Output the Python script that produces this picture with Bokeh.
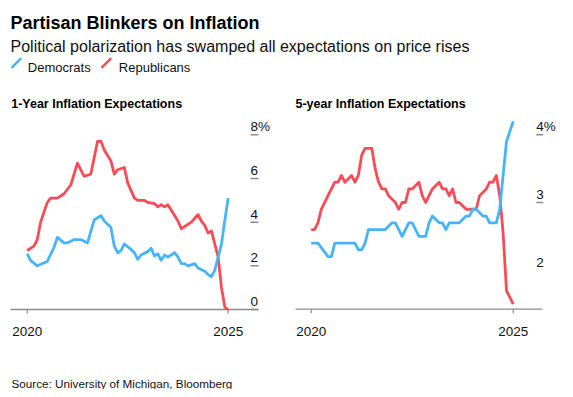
from bokeh.plotting import figure
from bokeh.models import Range1d
from bokeh.embed import file_html
from bokeh.resources import INLINE
from bokeh.core.properties import value

# ---------------- data ----------------
TITLE = "Partisan Blinkers on Inflation"
SUBTITLE = "Political polarization has swamped all expectations on price rises"
SOURCE = "Source: University of Michigan, Bloomberg"
SERIES = ["Democrats", "Republicans"]

# 1-year expectations (months since Jan 2020, %)
y1_rep_m = [0, 2, 3, 4, 6, 7, 9, 11, 13, 15, 17, 19, 21, 22, 23, 25, 26, 27, 29, 30, 32, 33, 35, 36,
            38, 39, 40, 41, 42, 44, 45, 46, 47, 49, 51, 52, 53, 54, 55, 57, 58, 59, 60]
y1_rep_v = [2.7, 2.9, 3.2, 4.0, 4.9, 5.1, 5.1, 5.3, 5.7, 6.7, 6.1, 6.2, 7.7, 7.7, 7.3, 6.8, 6.2, 6.4, 6.5, 5.8, 5.1, 5.0, 5.0, 4.9,
            4.85, 4.7, 4.8, 4.7, 4.8, 4.3, 4.05, 3.7, 3.8, 4.0, 4.35, 4.05, 3.85, 3.5, 3.6, 2.4, 1.0, 0.1, 0.0]
y1_dem_m = [0, 1, 3, 6, 8, 9, 11, 12, 14, 16, 18, 20, 22, 23, 25, 26, 27, 28, 29, 31, 32, 33, 34, 36, 37,
            38, 39, 40, 41, 42, 44, 45, 46, 47, 48, 50, 51, 53, 54, 55, 56, 58, 59, 60]
y1_dem_v = [2.55, 2.25, 2.0, 2.2, 2.85, 3.3, 3.05, 3.05, 3.2, 3.2, 3.05, 4.1, 4.3, 4.05, 3.75, 2.9, 2.6, 2.7, 3.0, 2.75, 2.6, 2.3, 2.5, 2.65, 2.8,
            2.45, 2.55, 2.25, 2.5, 2.4, 2.6, 2.4, 2.1, 2.1, 2.0, 2.1, 1.9, 1.75, 1.6, 1.5, 1.8, 3.0, 4.1, 5.1]

# 5-year expectations
y5_rep_m = [0, 1, 2, 3, 5, 6, 7, 8, 9, 10, 12, 13, 14, 15, 16, 18, 19, 20, 21, 22, 23, 25, 26, 27, 28, 29, 30,
            32, 33, 34, 35, 36, 38, 39, 40, 41, 42, 43, 44, 46, 47, 49, 50, 52, 53, 54, 55, 56, 57, 58, 60]
y5_rep_v = [2.6, 2.6, 2.7, 2.9, 3.1, 3.2, 3.3, 3.3, 3.4, 3.3, 3.4, 3.3, 3.4, 3.7, 3.8, 3.8, 3.5, 3.3, 3.2, 3.2, 3.1, 3.0, 2.9, 3.0, 3.0, 3.2, 3.2,
            3.3, 3.1, 3.0, 3.1, 3.2, 3.3, 3.2, 3.2, 3.1, 3.2, 3.0, 3.0, 2.9, 2.9, 2.9, 3.1, 3.2, 3.3, 3.3, 3.4, 3.1, 2.55, 1.7, 1.5]
y5_dem_m = [0, 2, 5, 6, 7, 13, 14, 15, 16, 17, 22, 24, 25, 27, 29, 30, 32, 34, 35, 36, 38, 39, 40, 41, 44,
            46, 47, 48, 49, 51, 52, 53, 55, 56, 57, 58, 60]
y5_dem_v = [2.4, 2.4, 2.2, 2.2, 2.4, 2.4, 2.3, 2.3, 2.4, 2.6, 2.6, 2.7, 2.7, 2.5, 2.7, 2.7, 2.5, 2.5, 2.7, 2.8, 2.7, 2.7, 2.6, 2.7, 2.7,
            2.8, 2.8, 2.9, 2.9, 2.8, 2.8, 2.7, 2.7, 2.9, 3.4, 3.9, 4.2]

X_TICKS = [2020, 2025]
X_LABELS = ["2020", "2025"]
P1_TITLE = "1-Year Inflation Expectations"
P1_LABEL_VALUES = [0, 2, 4, 6, 8]
P1_LABELS = ["0", "2", "4", "6", "8%"]
P1_TICKS = [0, 2, 4, 6, 8]
P2_TITLE = "5-year Inflation Expectations"
P2_LABEL_VALUES = [2, 3, 4]
P2_LABELS = ["2", "3", "4%"]
P2_TICKS = [3, 4]

# ---------------- style / layout (canvas pixels) ----------------
FONT = "Liberation Sans"
BLUE = "#46b4fb"
RED = "#fb4b57"
GREY = "#8c8c8c"
TXT = "#111111"

W, H = 565, 389


def years(months):
    return [2020 + m / 12 for m in months]


class Panel:
    """maps canvas pixels <-> panel data for one small-multiple"""
    def __init__(self, name, x2020, ppy, yref_px, yref_val, ppu, frame_l, frame_r, base_px):
        self.name = name
        self.x2020, self.ppy = x2020, ppy
        self.yref_px, self.yref_val, self.ppu = yref_px, yref_val, ppu
        self.frame_l, self.frame_r, self.base_px = frame_l, frame_r, base_px

    def dx(self, px):  # canvas x -> year
        return 2020 + (px - self.x2020) / self.ppy

    def dy(self, py):  # canvas y -> value
        return self.yref_val + (self.yref_px - py) / self.ppu

    def xrange(self):
        return Range1d(self.dx(0), self.dx(W))

    def yrange(self):
        return Range1d(self.dy(H), self.dy(0))


P1 = Panel("p1", 26.7, 40.2, 309.0, 0.0, 21.84, 10, 258, 309.0)
P2 = Panel("p2", 310.7, 40.4, 202.0, 3.0, 67.7, 295, 542, 308.7)

p = figure(width=W, height=H, output_backend="svg", toolbar_location=None,
           x_range=Range1d(0, W), y_range=Range1d(H, 0),
           x_axis_location=None, y_axis_location=None,
           min_border=0, outline_line_color=None)
p.grid.visible = False
p.extra_x_ranges = {"p1x": P1.xrange(), "p2x": P2.xrange()}
p.extra_y_ranges = {"p1y": P1.yrange(), "p2y": P2.yrange()}

# header
p.text(x=[10], y=[22.7], text=[TITLE], text_font=value(FONT), text_font_style="bold",
       text_font_size="18px", text_color="#000000", text_baseline="alphabetic")
p.text(x=[10], y=[45.7], text=[SUBTITLE], text_font=value(FONT),
       text_font_size="16px", text_color=TXT, text_baseline="alphabetic")
p.segment(x0=[11.7, 101.7], y0=[66.7, 66.7], x1=[20, 110], y1=[58.3, 58.3],
          line_color=[BLUE, RED], line_width=2.5, line_cap="round")
p.text(x=[27.3, 118.3], y=[66.7, 66.7], text=SERIES, text_font=value(FONT),
       text_font_size="13px", text_color=TXT, text_baseline="alphabetic")
p.text(x=[11], y=[383.3], text=[SOURCE], text_font=value(FONT), text_font_size="11.7px",
       text_color=TXT, text_baseline="alphabetic")


def draw_panel(P, title, title_x, rep_m, rep_v, dem_m, dem_v, ticks, lab_vals, labs, lab_px, tick_len):
    kw = dict(x_range_name=P.name + "x", y_range_name=P.name + "y")
    # panel title
    p.text(x=[P.dx(title_x)], y=[P.dy(103.3)], text=[title], text_font=value(FONT),
           text_font_style="bold", text_font_size="12.5px", text_color="#000000",
           text_baseline="alphabetic", **kw)
    # baseline + x ticks
    yb = P.dy(P.base_px)
    p.segment(x0=[P.dx(P.frame_l)], x1=[P.dx(P.frame_r)], y0=[yb], y1=[yb],
              line_color=GREY, line_width=1.3, **kw)
    p.segment(x0=X_TICKS, x1=X_TICKS, y0=[yb] * len(X_TICKS), y1=[P.dy(P.base_px + 4)] * len(X_TICKS),
              line_color=GREY, line_width=1.2, **kw)
    p.text(x=X_TICKS, y=[P.dy(330.7)] * len(X_TICKS), text=X_LABELS, text_font=value(FONT),
           text_font_size="13.5px", text_color=TXT, text_align="center", text_baseline="alphabetic", **kw)
    # y ticks (right) with labels above
    xl = P.dx(lab_px)
    xr = P.dx(lab_px + tick_len)
    p.segment(x0=[xl] * len(ticks), x1=[xr] * len(ticks), y0=ticks, y1=ticks,
              line_color=GREY, line_width=1.5, **kw)
    off = 8 / P.ppu
    p.text(x=[xl] * len(lab_vals), y=[v + off for v in lab_vals], text=labs, text_font=value(FONT),
           text_font_size="13.5px", text_color=TXT, text_baseline="alphabetic", **kw)
    # series
    p.line(years(rep_m), rep_v, line_color=RED, line_width=2.8, line_join="round", **kw)
    p.line(years(dem_m), dem_v, line_color=BLUE, line_width=2.8, line_join="round", **kw)


draw_panel(P1, P1_TITLE, 10.7, y1_rep_m, y1_rep_v, y1_dem_m, y1_dem_v,
           P1_TICKS, P1_LABEL_VALUES, P1_LABELS, 250.0, 8)
draw_panel(P2, P2_TITLE, 295.0, y5_rep_m, y5_rep_v, y5_dem_m, y5_dem_v,
           P2_TICKS, P2_LABEL_VALUES, P2_LABELS, 535.7, 7)

open("out.html", "w").write(file_html(p, INLINE))
